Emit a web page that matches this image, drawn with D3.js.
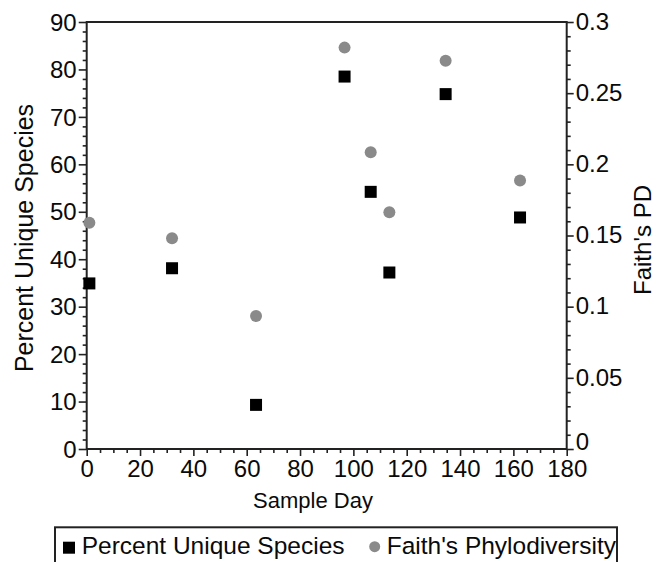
<!DOCTYPE html>
<html>
<head>
<meta charset="utf-8">
<script src="https://cdn.jsdelivr.net/npm/d3@7"></script>
<style>
  html, body { margin: 0; padding: 0; background: #fff; }
  svg { display: block; font-family: "Liberation Sans", Arial, Helvetica, sans-serif; }
</style>
</head>
<body>
<svg id="chart" width="662" height="562"></svg>
<script>
// ---- data ----
const sampleDays = [1, 32, 63.5, 96.7, 106.5, 113.5, 134.6, 162.5];
const percentUnique = [34.9, 38.1, 9.3, 78.5, 54.2, 37.2, 74.8, 48.8];
const faithPD = [0.159, 0.148, 0.0934, 0.282, 0.2085, 0.1663, 0.2728, 0.1886];
const xTicks = [0, 20, 40, 60, 80, 100, 120, 140, 160, 180];
const yLeftTicks = [0, 10, 20, 30, 40, 50, 60, 70, 80, 90];
const yRightTicks = [0, 0.05, 0.1, 0.15, 0.2, 0.25, 0.3];
const seriesNames = ["Percent Unique Species", "Faith's Phylodiversity"];

// ---- layout ----
const L = 86.7, R = 566.7, T = 22, B = 449;
const ink = "#222";
const txt = "#0a0a0a";
const svg = d3.select("#chart");

const x = d3.scaleLinear().domain([0, 180]).range([L, R]);
const yL = d3.scaleLinear().domain([0, 90]).range([B, T]);
const yR = d3.scaleLinear().domain([0, 0.3]).range([B, T]);

function styleAxis(g, fs) {
  g.select(".domain").remove();
  g.selectAll(".tick line").attr("stroke", ink).attr("stroke-width", 1.6);
  g.selectAll(".tick text").attr("fill", txt).style("font-size", fs + "px");
}

// minor ticks
const xMinor = d3.range(0, 181, 5).filter(v => v % 20 !== 0);
const yLMinor = d3.range(0, 91, 2).filter(v => v % 10 !== 0);
const yRMinor = d3.range(0, 31, 1).filter(v => v % 5 !== 0).map(v => v / 100);

svg.append("g").attr("transform", `translate(0,${B})`)
  .call(d3.axisBottom(x).tickValues(xMinor).tickFormat("").tickSize(4).tickSizeOuter(0))
  .call(g => styleAxis(g, 22));
svg.append("g").attr("transform", `translate(${L},0)`)
  .call(d3.axisLeft(yL).tickValues(yLMinor).tickFormat("").tickSize(4).tickSizeOuter(0))
  .call(g => styleAxis(g, 22));
svg.append("g").attr("transform", `translate(${R},0)`)
  .call(d3.axisRight(yR).tickValues(yRMinor).tickFormat("").tickSize(4).tickSizeOuter(0))
  .call(g => styleAxis(g, 22));

// major axes
svg.append("g").attr("transform", `translate(0,${B})`)
  .call(d3.axisBottom(x).tickValues(xTicks).tickSize(7).tickPadding(2).tickSizeOuter(0))
  .call(g => styleAxis(g, 24))
  .call(g => g.selectAll(".tick text").attr("dy", "0.8em"));
svg.append("g").attr("transform", `translate(${L},0)`)
  .call(d3.axisLeft(yL).tickValues(yLeftTicks).tickSize(8).tickPadding(2).tickSizeOuter(0))
  .call(g => styleAxis(g, 24))
  .call(g => g.selectAll(".tick text").attr("dy", "0.34em"));
svg.append("g").attr("transform", `translate(${R},0)`)
  .call(d3.axisRight(yR).tickValues(yRightTicks).tickFormat(d => String(+d.toFixed(2))).tickSize(7).tickPadding(2).tickSizeOuter(0))
  .call(g => styleAxis(g, 24))
  .call(g => g.selectAll(".tick text").attr("dy", d => d === 0 ? "0.04em" : "0.3em"));

// frame
svg.append("rect").attr("x", L).attr("y", T).attr("width", R - L).attr("height", B - T)
  .attr("fill", "none").attr("stroke", ink).attr("stroke-width", 2);

// axis titles
svg.append("text").attr("x", 313).attr("y", 508).attr("text-anchor", "middle")
  .style("font-size", "22px").attr("fill", txt).text("Sample Day");
svg.append("text").attr("transform", "translate(33,238) rotate(-90)").attr("text-anchor", "middle")
  .style("font-size", "25px").attr("fill", txt).text("Percent Unique Species");
svg.append("text").attr("transform", "translate(651,240) rotate(-90)").attr("text-anchor", "middle")
  .style("font-size", "24px").attr("fill", txt).text("Faith's PD");

// data marks
const pts = sampleDays.map((d, i) => ({ day: d, pu: percentUnique[i], pd: faithPD[i] }));
const sq = 12;
svg.append("g").selectAll("circle").data(pts).join("circle")
  .attr("cx", d => x(d.day)).attr("cy", d => yR(d.pd)).attr("r", 6)
  .attr("fill", "#8a8a8a");
svg.append("g").selectAll("rect").data(pts).join("rect")
  .attr("x", d => x(d.day) - sq / 2).attr("y", d => yL(d.pu) - sq / 2)
  .attr("width", sq).attr("height", sq).attr("fill", "#000");

// legend
const lg = svg.append("g");
lg.append("rect").attr("x", 55).attr("y", 527.3).attr("width", 562).attr("height", 60)
  .attr("fill", "#fff").attr("stroke", ink).attr("stroke-width", 2);
lg.append("rect").attr("x", 63).attr("y", 541.7).attr("width", 12).attr("height", 12).attr("fill", "#000");
lg.append("text").attr("x", 81.7).attr("y", 554).style("font-size", "24.5px").attr("fill", txt).text(seriesNames[0]);
lg.append("circle").attr("cx", 374.7).attr("cy", 546.7).attr("r", 5.5).attr("fill", "#8a8a8a");
lg.append("text").attr("x", 386.7).attr("y", 554).style("font-size", "24.5px").attr("fill", txt).text(seriesNames[1]);
</script>
</body>
</html>
